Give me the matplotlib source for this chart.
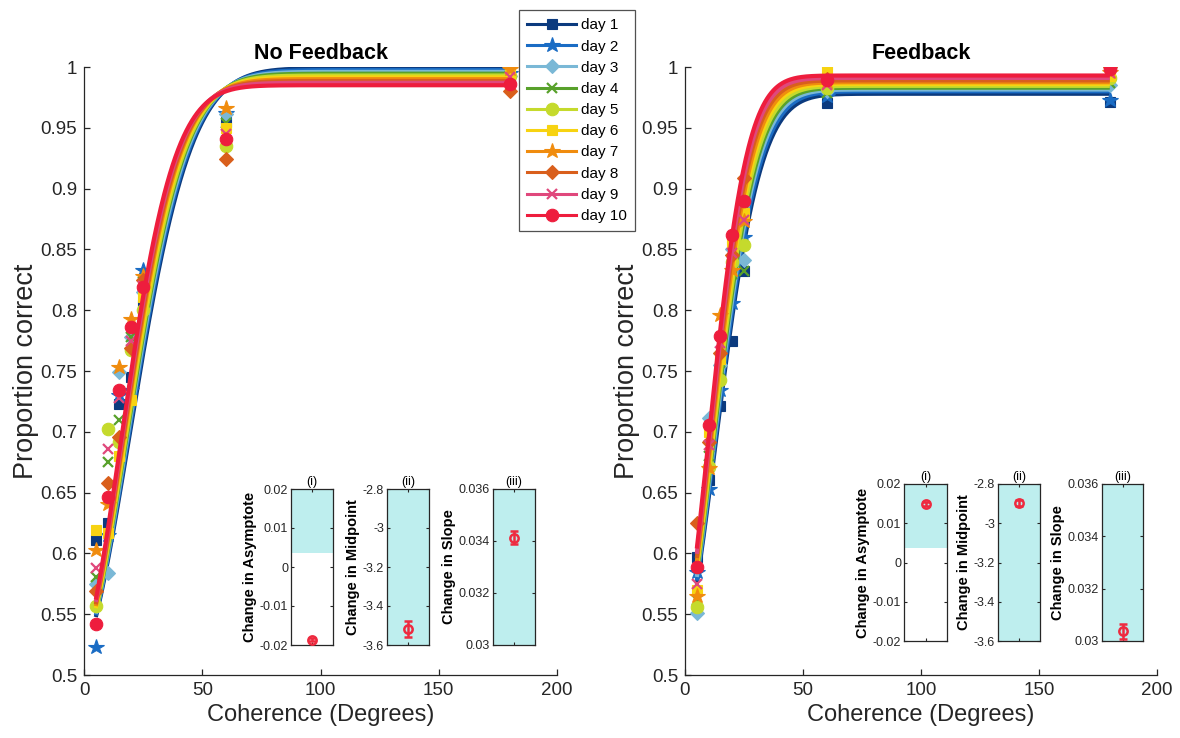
import numpy as np
import matplotlib
matplotlib.use("Agg")
import matplotlib.pyplot as plt
from matplotlib.lines import Line2D

plt.rcParams['font.family'] = ['Liberation Sans', 'DejaVu Sans']

W, H = 1180, 738

# ---------------- data ----------------
coherence = [5, 10, 15, 20, 25, 60, 180]
day_labels = ['day 1', 'day 2', 'day 3', 'day 4', 'day 5',
              'day 6', 'day 7', 'day 8', 'day 9', 'day 10']
day_colors = ['#0B3A7E', '#1A6CC4', '#7AB8D6', '#58A12B', '#C5DA2C',
              '#F7D311', '#F08C0E', '#D95F1C', '#E0487C', '#EE1D3D']
day_markers = ['s', '*', 'D', 'x', 'o', 's', '*', 'D', 'x', 'o']

# No Feedback: proportion correct at each coherence level
nofb_d1 = [0.611, 0.625, 0.723, 0.745, 0.804, 0.955, 0.990]
nofb_d2 = [0.523, 0.615, 0.730, 0.734, 0.833, 0.962, 0.995]
nofb_d3 = [0.575, 0.584, 0.749, 0.778, 0.815, 0.961, 0.993]
nofb_d4 = [0.581, 0.675, 0.710, 0.778, 0.823, 0.954, 1.000]
nofb_d5 = [0.557, 0.702, 0.692, 0.767, 0.800, 0.935, 0.993]
nofb_d6 = [0.619, 0.617, 0.680, 0.726, 0.811, 0.950, 0.995]
nofb_d7 = [0.603, 0.641, 0.753, 0.793, 0.828, 0.966, 0.998]
nofb_d8 = [0.569, 0.658, 0.696, 0.769, 0.825, 0.924, 0.980]
nofb_d9 = [0.588, 0.686, 0.728, 0.775, 0.820, 0.945, 0.992]
nofb_d10 = [0.542, 0.646, 0.734, 0.786, 0.819, 0.941, 0.986]

# Feedback: proportion correct at each coherence level
fb_d1 = [0.597, 0.660, 0.721, 0.775, 0.832, 0.970, 0.971]
fb_d2 = [0.585, 0.653, 0.734, 0.806, 0.860, 0.976, 0.973]
fb_d3 = [0.551, 0.711, 0.755, 0.850, 0.841, 0.980, 0.985]
fb_d4 = [0.562, 0.680, 0.750, 0.830, 0.832, 0.979, 0.987]
fb_d5 = [0.556, 0.671, 0.743, 0.840, 0.854, 0.983, 0.991]
fb_d6 = [0.570, 0.700, 0.760, 0.855, 0.880, 0.998, 0.993]
fb_d7 = [0.565, 0.670, 0.796, 0.833, 0.873, 0.988, 0.996]
fb_d8 = [0.625, 0.692, 0.765, 0.845, 0.909, 0.990, 1.000]
fb_d9 = [0.575, 0.689, 0.773, 0.847, 0.874, 0.985, 0.995]
fb_d10 = [0.589, 0.706, 0.779, 0.862, 0.890, 0.989, 0.998]

# fitted psychometric parameters per day (asymptote, scale) and shift per panel
nofb_asym = [0.999, 0.9975, 0.996, 0.9945, 0.993, 0.9915, 0.990, 0.9885, 0.987, 0.985]
nofb_scale = [36.3, 35.7, 35.1, 34.5, 34.0, 33.4, 32.8, 32.3, 31.7, 31.1]
nofb_shift = 6.5
fb_asym = [0.978, 0.980, 0.9815, 0.983, 0.9845, 0.986, 0.9875, 0.989, 0.991, 0.993]
fb_scale = [26.6, 26.2, 25.7, 25.3, 24.9, 24.4, 24.0, 23.5, 23.1, 22.6]
fb_shift = 6.0

# inset summaries: change in asymptote / midpoint / slope (mean, error)
param_names = ['Change in Asymptote', 'Change in Midpoint', 'Change in Slope']
param_titles = ['(i)', '(ii)', '(iii)']
param_ylims = [(-0.02, 0.02), (-3.6, -2.8), (0.03, 0.036)]
param_ticks = [[-0.02, -0.01, 0, 0.01, 0.02],
               [-3.6, -3.4, -3.2, -3.0, -2.8],
               [0.03, 0.032, 0.034, 0.036]]
param_ticklabels = [['-0.02', '-0.01', '0', '0.01', '0.02'],
                    ['-3.6', '-3.4', '-3.2', '-3', '-2.8'],
                    ['0.03', '0.032', '0.034', '0.036']]
param_shade = [(0.0037, 0.02), (-3.6, -2.8), (0.03, 0.036)]
nofb_change = [-0.0187, -3.518, 0.03413]
nofb_change_err = [0.0004, 0.043, 0.00026]
fb_change = [0.0149, -2.895, 0.03037]
fb_change_err = [0.0006, 0.015, 0.00028]

yticks_main = [0.5, 0.55, 0.6, 0.65, 0.7, 0.75, 0.8, 0.85, 0.9, 0.95, 1.0]
yticklabels_main = ['0.5', '0.55', '0.6', '0.65', '0.7', '0.75', '0.8',
                    '0.85', '0.9', '0.95', '1']
xticks_main = [0, 50, 100, 150, 200]

INK = '#262626'
SHADE = '#BEEEEE'
INSET_RED = '#EE2A3F'


def psychometric(x, asym, scale, shift):
    return 0.5 + (asym - 0.5) * (1.0 - np.exp(-((x + shift) / scale) ** 2))


def px_axes(fig, x0, y0, x1, y1):
    return fig.add_axes([x0 / W, 1 - y1 / H, (x1 - x0) / W, (y1 - y0) / H])


def marker_kw(m, color):
    size = {'s': 7.5, '*': 11.5, 'D': 7.5, 'x': 7.5, 'o': 9}[m]
    kw = dict(marker=m, ms=size, color=color, mfc=color, mec=color)
    kw['mew'] = 1.6 if m == 'x' else 0.8
    return kw


def main_panel(ax, data, asym, scale, shift, title):
    xs = np.linspace(min(coherence), max(coherence), 600)
    for i in range(len(day_labels)):
        c = day_colors[i]
        ax.plot(coherence, data[i], ls='none', zorder=2 + 2 * i,
                **marker_kw(day_markers[i], c))
        ax.plot(xs, psychometric(xs, asym[i], scale[i], shift), color=c,
                lw=3.0, zorder=3 + 2 * i, solid_capstyle='butt')
    ax.set_xlim(0, 200)
    ax.set_ylim(0.5, 1.0)
    ax.set_xticks(xticks_main)
    ax.set_yticks(yticks_main)
    ax.set_yticklabels(yticklabels_main)
    for s in ['top', 'right']:
        ax.spines[s].set_visible(False)
    for s in ['left', 'bottom']:
        ax.spines[s].set_color(INK)
        ax.spines[s].set_linewidth(0.9)
    ax.tick_params(direction='in', length=4, width=0.9, colors=INK,
                   labelsize=13.5, pad=5)
    ax.set_xlabel('Coherence (Degrees)', fontsize=17, color=INK, labelpad=4)
    ax.set_ylabel('Proportion correct', fontsize=19.5, color=INK, labelpad=1)
    ax.set_title(title, fontsize=15.5, fontweight='bold', pad=6)


def inset(ax, k, value, err):
    lo, hi = param_shade[k]
    ax.axhspan(lo, hi, color=SHADE, lw=0, zorder=0)
    ax.errorbar([1], [value], yerr=[err], fmt='o', ms=6, mfc='none',
                mec=INSET_RED, mew=1.8, ecolor=INSET_RED, elinewidth=1.8,
                capsize=3, capthick=1.8, zorder=3)
    ax.set_xlim(0.5, 1.5)
    ax.set_ylim(*param_ylims[k])
    ax.set_xticks([1])
    ax.set_xticklabels([])
    ax.set_yticks(param_ticks[k])
    ax.set_yticklabels(param_ticklabels[k])
    ax.tick_params(direction='in', length=2.5, width=0.8, colors=INK,
                   labelsize=9, pad=2, top=True, right=True)
    for s in ax.spines.values():
        s.set_color(INK)
        s.set_linewidth(0.9)
    ax.set_ylabel(param_names[k], fontsize=10.5, fontweight='bold', labelpad=2)
    ax.set_title(param_titles[k], fontsize=9, pad=3)


fig = plt.figure(figsize=(W / 100, H / 100), dpi=100)

nofb_data = [nofb_d1, nofb_d2, nofb_d3, nofb_d4, nofb_d5,
             nofb_d6, nofb_d7, nofb_d8, nofb_d9, nofb_d10]
fb_data = [fb_d1, fb_d2, fb_d3, fb_d4, fb_d5,
           fb_d6, fb_d7, fb_d8, fb_d9, fb_d10]

ax_l = px_axes(fig, 84, 67, 557, 675)
main_panel(ax_l, nofb_data, nofb_asym, nofb_scale, nofb_shift, 'No Feedback')
ax_r = px_axes(fig, 685, 67, 1157, 675)
main_panel(ax_r, fb_data, fb_asym, fb_scale, fb_shift, 'Feedback')

left_boxes = [(291, 489, 333, 645), (387, 489, 429, 645), (493, 489, 535, 645)]
right_boxes = [(904, 484, 947, 641), (998, 484, 1040, 641), (1102, 484, 1143, 641)]
for k in range(3):
    inset(px_axes(fig, *left_boxes[k]), k, nofb_change[k], nofb_change_err[k])
    inset(px_axes(fig, *right_boxes[k]), k, fb_change[k], fb_change_err[k])

handles = [Line2D([0], [0], lw=2.2, **marker_kw(day_markers[i], day_colors[i]))
           for i in range(len(day_labels))]
leg = fig.legend(handles, day_labels, loc='upper left',
                 bbox_to_anchor=(519 / W, 1 - 10 / H), fontsize=11,
                 handlelength=3.2, handletextpad=0.3, labelspacing=0.47,
                 borderpad=0.55, frameon=True, fancybox=False,
                 edgecolor=INK, borderaxespad=0)
leg.get_frame().set_linewidth(0.9)

fig.savefig('out.png', dpi=100)
